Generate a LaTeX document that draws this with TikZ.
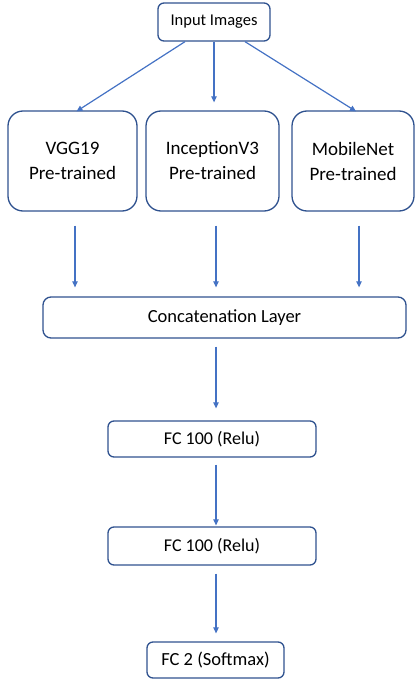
\documentclass[tikz,border=0pt]{standalone}
\usepackage{fontspec}
\setmainfont{Carlito}
\usetikzlibrary{arrows.meta,positioning}

\definecolor{boxline}{RGB}{47,82,143}
\definecolor{arrowblue}{RGB}{68,114,196}

\tikzset{
  box/.style={draw=boxline, line width=1.3pt, align=center, inner sep=0pt},
  arr/.style={draw=arrowblue, line width=1.2pt, -{Triangle[length=6pt,width=5.5pt]}}
}

\begin{document}
\begin{tikzpicture}[x=1pt, y=-1pt]
    \useasboundingbox (0,0) rectangle (415,679);

    % Input
    \node[box, rounded corners=6pt, minimum width=112pt, minimum height=38pt, font=\fontsize{16.5}{19}\selectfont] (in) at (214,22) {Input Images};

    % Pre-trained models
    \node[box, rounded corners=15pt, minimum width=129pt, minimum height=100pt, font=\fontsize{19}{25}\selectfont] (vgg) at (72.5,161) {VGG19\\Pre-trained};
    \node[box, rounded corners=15pt, minimum width=133pt, minimum height=100pt, font=\fontsize{19}{25}\selectfont] (incep) at (212.5,161) {InceptionV3\\Pre-trained};
    \node[box, rounded corners=15pt, minimum width=122pt, minimum height=100pt, font=\fontsize{19}{25}\selectfont] (mobile) at (353,161) {MobileNet\\Pre-trained};

    % Merge and dense layers
    \node[box, rounded corners=8pt, minimum width=363pt, minimum height=41pt, font=\fontsize{18.5}{22}\selectfont] (concat) at (224.5,317.5) {Concatenation Layer};
    \node[box, rounded corners=6pt, minimum width=208pt, minimum height=36pt, font=\fontsize{18}{22}\selectfont] (fca) at (212,439) {FC 100 (Relu)};
    \node[box, rounded corners=6pt, minimum width=208pt, minimum height=38pt, font=\fontsize{18}{22}\selectfont] (fcb) at (212,546) {FC 100 (Relu)};
    \node[box, rounded corners=6pt, minimum width=137pt, minimum height=36pt, font=\fontsize{18.5}{22}\selectfont] (fcout) at (215.5,660) {FC 2 (Softmax)};

    % Input to models
    \draw[arr] ([xshift=-29pt]in.south) -- ([xshift=4pt,yshift=-1pt]vgg.north);
    \draw[arr, shorten >=8pt] (in.south) -- (in.south |- incep.north);
    \draw[arr] ([xshift=31pt]in.south) -- ([xshift=3pt,yshift=-1pt]mobile.north);

    % Models to concatenation
    \draw[arr, shorten <=14pt, shorten >=9pt] ([xshift=2.5pt]vgg.south) coordinate (va) -- (va |- concat.north);
    \draw[arr, shorten <=14pt, shorten >=9pt] ([xshift=3.5pt]incep.south) coordinate (ia) -- (ia |- concat.north);
    \draw[arr, shorten <=14pt, shorten >=9pt] ([xshift=6pt]mobile.south) coordinate (ma) -- (ma |- concat.north);

    % Down the stack
    \draw[arr, shorten <=8pt, shorten >=12pt] (fca.north |- concat.south) ++(4pt,0) coordinate (ca) -- (ca |- fca.north);
    \draw[arr, shorten <=7pt, shorten >=1pt] ([xshift=4pt]fca.south) coordinate (fa) -- (fa |- fcb.north);
    \draw[arr, shorten <=8pt, shorten >=8pt] ([xshift=4pt]fcb.south) coordinate (fb) -- (fb |- fcout.north);
\end{tikzpicture}
\end{document}
